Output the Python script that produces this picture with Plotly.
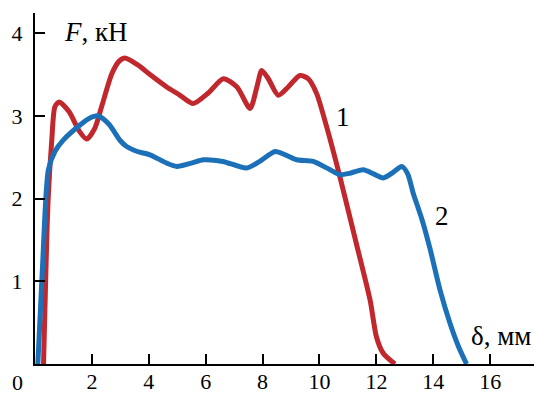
import plotly.graph_objects as go

# Curve 1: force vs. displacement
x1 = [0.3, 0.39, 0.46, 0.59, 0.7, 0.85, 1.2, 1.55, 1.82, 2.1, 2.34, 2.7, 2.95, 3.16, 3.6,
      4.04, 4.63, 5.1, 5.56, 6.1, 6.62, 7.1, 7.56, 7.8, 7.97, 8.2, 8.55, 8.9, 9.31, 9.6,
      9.9, 10.25, 10.72, 11.3, 11.78, 12.0, 12.24, 12.65]
f1 = [0, 1.22, 1.98, 2.71, 3.11, 3.17, 3.05, 2.82, 2.72, 2.85, 3.11, 3.51, 3.66, 3.70, 3.62,
      3.5, 3.35, 3.25, 3.15, 3.28, 3.45, 3.35, 3.09, 3.35, 3.55, 3.45, 3.25, 3.35, 3.49, 3.45,
      3.27, 2.87, 2.26, 1.45, 0.77, 0.33, 0.13, 0]

# Curve 2: force vs. displacement
x2 = [0.1, 0.27, 0.47, 0.7, 1.0, 1.58, 1.9, 2.23, 2.6, 3.0, 3.22, 3.6, 4.04, 4.63, 4.98,
      5.5, 5.92, 6.6, 7.44, 7.9, 8.44, 8.8, 9.2, 9.78, 10.37, 10.72, 11.1, 11.54, 11.9,
      12.24, 12.6, 12.89, 13.1, 13.3, 13.6, 13.88, 14.24, 14.59, 14.9, 15.17]
f2 = [0, 1.22, 2.35, 2.57, 2.71, 2.89, 2.97, 3.0, 2.9, 2.7, 2.63, 2.57, 2.53, 2.43, 2.39,
      2.43, 2.47, 2.45, 2.37, 2.45, 2.57, 2.53, 2.47, 2.45, 2.35, 2.29, 2.31, 2.35, 2.3,
      2.25, 2.32, 2.39, 2.3, 2.06, 1.75, 1.4, 0.89, 0.49, 0.2, 0]

x_ticks = [2, 4, 6, 8, 10, 12, 14, 16]
y_ticks = [1, 2, 3, 4]

RED = "#c1282d"
BLUE = "#1b70b8"
FONT = "Liberation Serif"
TICK_SIZE = 22
LABEL_SIZE = 27

fig = go.Figure()
fig.add_trace(go.Scatter(x=x1, y=f1, mode="lines",
                         line=dict(color=RED, width=5, shape="spline", smoothing=0.7)))
fig.add_trace(go.Scatter(x=x2, y=f2, mode="lines",
                         line=dict(color=BLUE, width=5, shape="spline", smoothing=0.7)))

axis_common = dict(
    showgrid=False, zeroline=False, showline=True, linecolor="black", linewidth=2,
    ticks="inside", ticklen=10, tickwidth=1.5, tickcolor="black", automargin=False,
    tickfont=dict(family=FONT, size=TICK_SIZE, color="black"),
)

fig.update_xaxes(range=[0, 17.54], tickvals=x_ticks, ticktext=[str(v) for v in x_ticks],
                 ticklabelstandoff=-3, **axis_common)
fig.update_yaxes(range=[0, 4.245], tickvals=y_ticks, ticktext=[str(v) for v in y_ticks],
                 ticklabelstandoff=6, **axis_common)

W, H = 534, 394
L, R, T, B = 35, 0, 13, 30


def px_label(px, py, text, size, xanchor="center"):
    """Annotation placed at a pixel position of the page."""
    return dict(
        xref="paper", yref="paper",
        x=(px - L) / (W - L - R), y=(H - B - py) / (H - T - B),
        text=text, showarrow=False, xanchor=xanchor, yanchor="middle",
        font=dict(family=FONT, size=size, color="black"),
    )


annotations = [
    dict(x=0, y=0, xref="x", yref="y", text="0", showarrow=False, xshift=-18, yshift=-18,
         font=dict(family=FONT, size=TICK_SIZE, color="black")),
    px_label(62, 32, "<i>F</i>, кН", LABEL_SIZE, xanchor="left"),
    px_label(533, 336, "δ, мм", LABEL_SIZE, xanchor="right"),
    px_label(343, 117, "1", LABEL_SIZE),
    px_label(442, 216, "2", LABEL_SIZE),
]

fig.update_layout(
    width=W, height=H, margin=dict(l=L, r=R, t=T, b=B, autoexpand=False),
    paper_bgcolor="white", plot_bgcolor="white", showlegend=False,
    annotations=annotations,
)

fig.write_html("out.html")
